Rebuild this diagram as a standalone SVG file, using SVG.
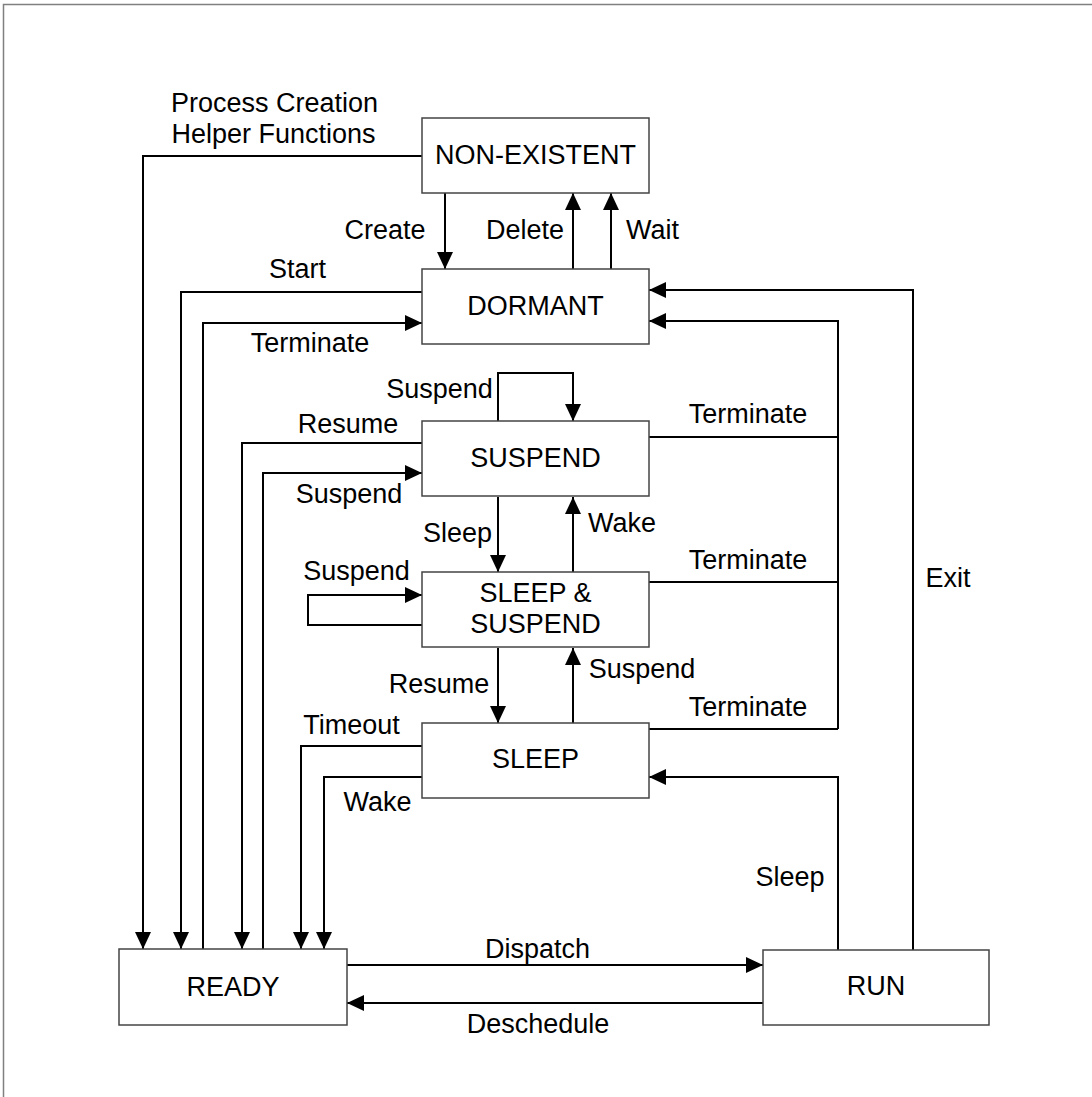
<svg xmlns="http://www.w3.org/2000/svg" width="1092" height="1097" viewBox="0 0 1092 1097">
<style>
.box{fill:#fff;stroke:#444;stroke-width:1.5}
.c{fill:none;stroke:#000;stroke-width:2}
.a{marker-end:url(#ah)}
text{font-family:"Liberation Sans",Arial,sans-serif;font-size:27px;fill:#000;text-anchor:middle}
.frame{fill:none;stroke:#808080;stroke-width:1.5}
</style>
<defs>
<marker id="ah" markerUnits="userSpaceOnUse" markerWidth="17" markerHeight="16" refX="17" refY="8" orient="auto">
<path d="M0,0 L17,8 L0,16 z" fill="#000"/>
</marker>
</defs>
<rect width="1092" height="1097" fill="#fff"/>
<path class="frame" d="M3.5,1097 V4.5 H1092"/>
<g id="connectors">
<path class="c a" d="M422,156 H143 V949"/>
<path class="c a" d="M445,193 V269"/>
<path class="c a" d="M573,269 V193"/>
<path class="c a" d="M611,269 V193"/>
<path class="c a" d="M422,292 H181 V949"/>
<path class="c a" d="M203,949 V323 H422"/>
<path class="c a" d="M913,950 V290 H649"/>
<path class="c a" d="M838,729 V321 H649"/>
<path class="c" d="M649,437 H838 M649,582 H838 M649,729 H838"/>
<path class="c a" d="M498,421 V373 H573 V421"/>
<path class="c a" d="M422,443 H242 V949"/>
<path class="c a" d="M263,949 V473 H422"/>
<path class="c a" d="M498,497 V572"/>
<path class="c a" d="M573,572 V497"/>
<path class="c a" d="M422,625 H308 V595 H422"/>
<path class="c a" d="M498,648 V723"/>
<path class="c a" d="M573,723 V648"/>
<path class="c a" d="M422,746 H301 V949"/>
<path class="c a" d="M422,777 H324 V949"/>
<path class="c a" d="M838,950 V777 H649"/>
<path class="c a" d="M347,965 H763"/>
<path class="c a" d="M763,1003 H347"/>
</g>
<g id="labels">
<text x="274.5" y="112">Process Creation</text>
<text x="273.5" y="143">Helper Functions</text>
<text x="385" y="239">Create</text>
<text x="525" y="239">Delete</text>
<text x="652.5" y="239">Wait</text>
<text x="297.5" y="278">Start</text>
<text x="310" y="352">Terminate</text>
<text x="439.5" y="398">Suspend</text>
<text x="348" y="433">Resume</text>
<text x="349" y="503">Suspend</text>
<text x="457.5" y="542">Sleep</text>
<text x="622" y="532">Wake</text>
<text x="356.5" y="580">Suspend</text>
<text x="439" y="693">Resume</text>
<text x="642" y="678">Suspend</text>
<text x="351.5" y="734">Timeout</text>
<text x="377.5" y="811">Wake</text>
<text x="748" y="423">Terminate</text>
<text x="748" y="569">Terminate</text>
<text x="748" y="716">Terminate</text>
<text x="948" y="587">Exit</text>
<text x="790" y="886">Sleep</text>
<text x="537.5" y="958">Dispatch</text>
<text x="538" y="1033">Deschedule</text>
</g>
<g id="non-existent"><rect class="box" x="422" y="118" width="227" height="75"/><text x="535.5" y="164">NON-EXISTENT</text></g>
<g id="dormant"><rect class="box" x="422" y="269" width="227" height="75"/><text x="535.5" y="315">DORMANT</text></g>
<g id="suspend"><rect class="box" x="422" y="421" width="227" height="75"/><text x="535.5" y="467">SUSPEND</text></g>
<g id="sleep-suspend"><rect class="box" x="422" y="572" width="227" height="75"/><text x="535.5" y="602">SLEEP &amp;</text><text x="535.5" y="633">SUSPEND</text></g>
<g id="sleep"><rect class="box" x="422" y="723" width="227" height="75"/><text x="535.5" y="768">SLEEP</text></g>
<g id="ready"><rect class="box" x="119" y="949" width="228" height="76"/><text x="233" y="996">READY</text></g>
<g id="run"><rect class="box" x="763" y="950" width="226" height="75"/><text x="876" y="995">RUN</text></g>
</svg>
